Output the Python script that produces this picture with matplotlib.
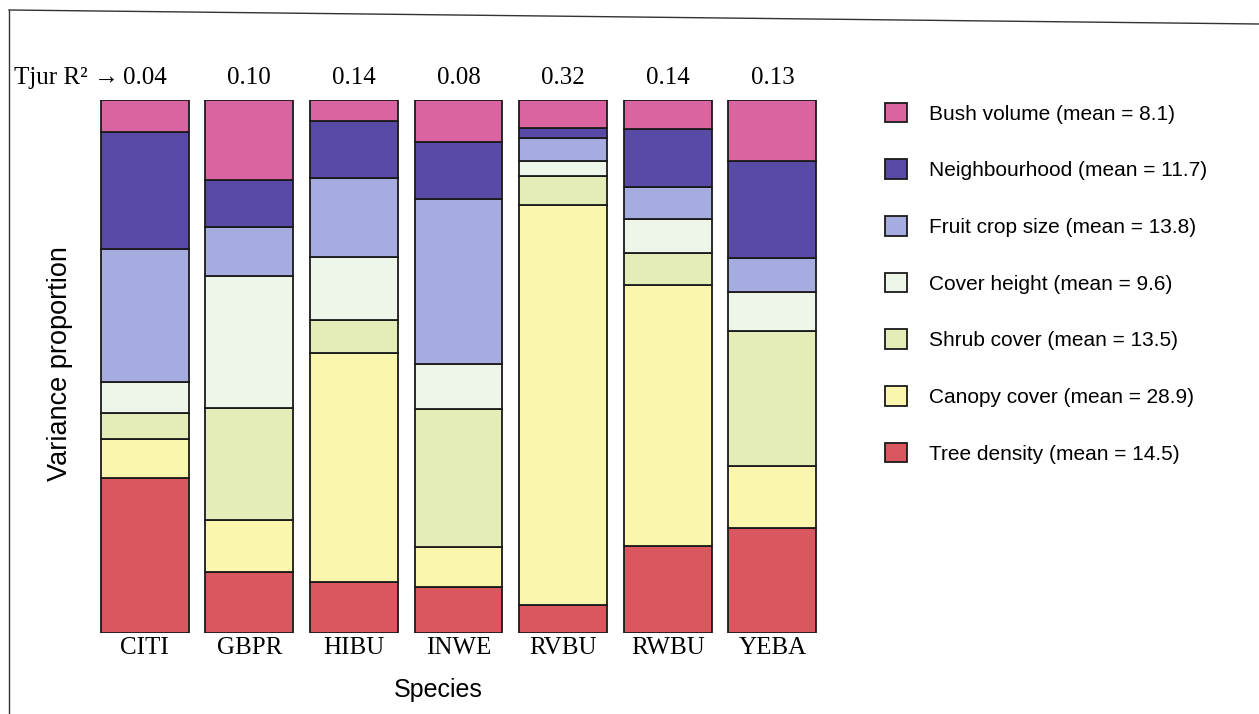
import numpy as np
import matplotlib.pyplot as plt
from matplotlib.lines import Line2D

species = ["CITI", "GBPR", "HIBU", "INWE", "RVBU", "RWBU", "YEBA"]
tjur_r2 = ["0.04", "0.10", "0.14", "0.08", "0.32", "0.14", "0.13"]

# variance proportions (%) per species, bottom to top order below
tree_density = [29.2, 11.4, 9.6, 8.6, 5.3, 16.4, 19.8]
canopy_cover = [7.3, 9.9, 43.0, 7.5, 75.1, 48.8, 11.6]
shrub_cover = [4.8, 20.9, 6.2, 25.9, 5.5, 6.0, 25.3]
cover_height = [5.8, 24.9, 11.8, 8.5, 2.8, 6.4, 7.4]
fruit_crop = [25.0, 9.2, 14.8, 30.8, 4.2, 6.0, 6.3]
neighbourhood = [22.0, 8.8, 10.7, 10.7, 1.9, 10.8, 18.3]
bush_volume = [6.0, 15.0, 3.9, 7.9, 5.3, 5.5, 11.4]

labels = ["Tree density (mean = 14.5)", "Canopy cover (mean = 28.9)",
          "Shrub cover (mean = 13.5)", "Cover height (mean = 9.6)",
          "Fruit crop size (mean = 13.8)", "Neighbourhood (mean = 11.7)",
          "Bush volume (mean = 8.1)"]
colors = ["#d9585f", "#fbf6ae", "#e4edb8", "#eef6ea", "#a6abe0", "#5a4aa8", "#d9649f"]

layers = [tree_density, canopy_cover, shrub_cover, cover_height,
          fruit_crop, neighbourhood, bush_volume]

serif = ["Liberation Serif", "DejaVu Serif"]
sans = ["Liberation Sans", "DejaVu Sans"]

fig = plt.figure(figsize=(12.59, 7.14), dpi=100)
ax = fig.add_axes([87 / 1259, 1 - 633 / 714, (830 - 87) / 1259, (633 - 100) / 714])

x = np.arange(len(species))
tot = np.array([sum(l[i] for l in layers) for i in range(len(species))])
bottom = np.zeros(len(species))
handles = []
for vals, lab, col in zip(layers, labels, colors):
    share = np.array(vals) / tot * 100
    h = ax.bar(x, share, bottom=bottom, width=0.84, color=col,
               edgecolor="#1a1a1a", linewidth=1.3, label=lab)
    bottom += share
    handles.append(h)

ax.set_xlim(-0.55, 6.55)
ax.set_ylim(0, 100)
for s in ax.spines.values():
    s.set_visible(False)
ax.set_yticks([])
ax.set_xticks(x)
ax.set_xticklabels(species, family=serif, fontsize=18)
ax.tick_params(axis="x", length=0, pad=3)

for xi, r in zip(x, tjur_r2):
    ax.text(xi, 102.0, r, ha="center", va="bottom", family=serif, fontsize=18)
ax.text(-0.24, 102.0, "Tjur R\u00b2 \u2192", ha="right", va="bottom",
        family=serif, fontsize=18)

fig.text(438 / 1259, 1 - 690 / 714, "Species", ha="center", va="center",
         family=sans, fontsize=18)
fig.text(60 / 1259, 1 - 364 / 714, "Variance proportion", ha="center", va="center",
         rotation=90, family=sans, fontsize=19.5)

leg = fig.legend(handles[::-1], labels[::-1], loc="upper left",
                 bbox_to_anchor=(866 / 1259, 1 - 84 / 714), frameon=False,
                 prop={"family": sans, "size": 15}, labelspacing=1.72,
                 handlelength=1.06, handleheight=1.06, handletextpad=1.05)

# frame drawn around the figure (left and top edges)
fig.add_artist(Line2D([9 / 1259, 9 / 1259], [0, 1 - 10 / 714], color="#333333",
                      linewidth=1.0, transform=fig.transFigure))
fig.add_artist(Line2D([9 / 1259, 1], [1 - 10 / 714, 1 - 24 / 714], color="#333333",
                      linewidth=1.0, transform=fig.transFigure))

fig.savefig("out.png", dpi=100)
